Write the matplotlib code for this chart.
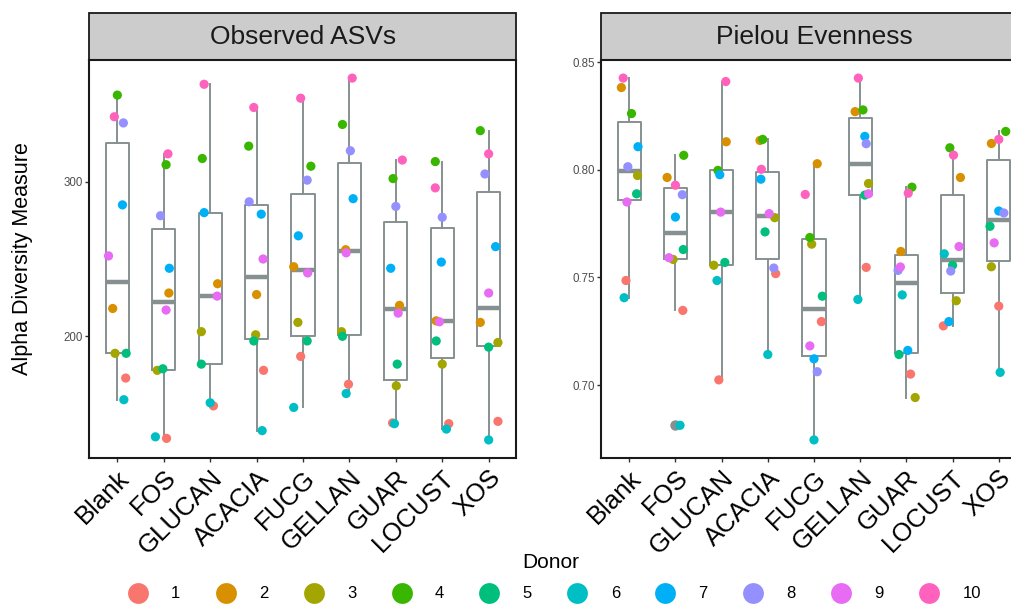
import numpy as np
import matplotlib
matplotlib.use("Agg")
import matplotlib.pyplot as plt
from matplotlib.patches import Rectangle
from matplotlib.lines import Line2D
from matplotlib.transforms import ScaledTranslation

plt.rcParams['font.family'] = ['Liberation Sans', 'DejaVu Sans']

# categories and donors
categories = ['Blank', 'FOS', 'GLUCAN', 'ACACIA', 'FUCG', 'GELLAN', 'GUAR', 'LOCUST', 'XOS']
donors = ['1', '2', '3', '4', '5', '6', '7', '8', '9', '10']
donor_colors = ['#F8766D', '#D89000', '#A3A500', '#39B600', '#00BF7D',
                '#00BFC4', '#00B0F6', '#9590FF', '#E76BF3', '#FF62BC']
nan = np.nan

# Observed ASVs, one row per category, one value per donor 1..10
observed = [
    [173, 218, 189, 356, 189, 159, 285, 338, 252, 342],
    [134, 228, 178, 311, 179, 135, 244, 278, 217, 318],
    [155, 234, 203, 315, 182, 157, 280, nan, 226, 363],
    [178, 227, 201, 323, 197, 139, 279, 287, 250, 348],
    [187, 245, 209, 310, 197, 154, 265, 301, 241, 354],
    [169, 256, 203, 337, 200, 163, 289, 320, 254, 367],
    [144, 220, 168, 302, 182, 143.5, 244, 284, 215, 314],
    [143.5, 210, 182, 313, 197, 140, 248, 277, 209.4, 296],
    [145, 209, 196, 333, 193, 133, 258, 305, 228, 318],
]
# horizontal jitter (category units)
observed_jit = [
    [.18, -.10, -.05, 0, .19, .14, .11, .13, -.19, -.065],
    [.06, .11, -.14, .05, -.02, -.18, .12, -.07, .05, .09],
    [.07, .16, -.19, -.17, -.19, 0, -.13, 0, .15, -.13],
    [.15, 0, -.02, -.17, -.06, .12, .10, -.16, .14, -.06],
    [-.05, -.20, -.11, .17, .09, -.20, -.10, .09, .10, -.05],
    [-.02, -.08, -.17, -.15, -.15, -.07, .08, .02, -.07, .06],
    [-.07, .08, .01, -.06, .03, -.03, -.11, 0, .05, .14],
    [.14, -.13, 0, -.15, -.13, .09, -.02, 0, -.06, -.15],
    [.20, -.18, .20, -.18, 0, 0, .15, -.08, 0, 0],
]

# Pielou Evenness
pielou = [
    [.7486, .8383, .7974, .8262, .7889, .7406, .8108, .8015, .7851, .8427],
    [.7347, .7965, .7584, .8068, .7630, .6813, .7781, .7885, .7592, .7929],
    [.7024, .8131, .7557, .7998, .7570, .7486, .7978, nan, .7804, .8411],
    [.7518, .8137, .7778, .8142, .7712, .7142, .7957, .7544, .7797, .8003],
    [.7295, .8029, .7655, .7686, .7413, .6745, .7122, .7062, .7182, .7886],
    [.7547, .8271, .7937, .8279, .7883, .7398, .8156, .8122, .7889, .8427],
    [.7051, .7621, .6942, .7920, .7142, .7419, .7161, .7533, .7549, .7892],
    [.7275, .7965, .7392, .8103, .7557, .7610, .7295, .7530, .7644, .8069],
    [.7367, .8123, .7550, .8179, .7738, .7059, .7809, .7800, .7661, .8142],
]
pielou_jit = [
    [-.07, -.17, .18, .05, .16, -.11, .19, -.03, -.05, -.13],
    [.16, -.18, -.05, .18, .17, .10, 0, .15, -.14, 0],
    [-.06, .10, -.17, -.08, .07, -.10, -.04, 0, -.02, .09],
    [.17, -.17, .15, -.11, -.06, 0, -.15, .13, .03, -.14],
    [.16, .07, -.05, -.09, .18, 0, 0, .07, -.09, -.19],
    [.13, -.11, .18, .06, .10, -.05, .10, .13, .18, -.04],
    [.09, -.12, .19, .12, -.16, -.09, .03, -.18, -.13, .04],
    [-.20, .17, .08, -.06, 0, -.18, -.08, -.04, .14, .02],
    [0, -.16, -.16, .15, -.19, .03, 0, .11, -.10, 0],
]

panels = [('Observed ASVs', observed, observed_jit, [200, 300], '{:.0f}'),
          ('Pielou Evenness', pielou, pielou_jit, [0.70, 0.75, 0.80, 0.85], '{:.2f}')]

box_col = '#879090'
fig = plt.figure(figsize=(10.12, 6.05), dpi=100)
W, H = 1012, 605
ax_rects = [(89.5 / W, 1 - 458 / H, 427 / W, 398 / H),
            (601.5 / W, 1 - 458 / H, 425 / W, 398 / H)]

for (title, vals, jit, yticks, fmt), rect in zip(panels, ax_rects):
    ax = fig.add_axes(rect)
    pos = np.arange(1, len(categories) + 1)
    groups = [np.array(v, dtype=float)[~np.isnan(np.array(v, dtype=float))] for v in vals]
    ax.boxplot(groups, positions=pos, widths=0.5, showcaps=False, patch_artist=False,
               boxprops=dict(color=box_col, lw=1.4),
               whiskerprops=dict(color=box_col, lw=1.4),
               medianprops=dict(color=box_col, lw=3.2, solid_capstyle='butt'),
               flierprops=dict(marker='o', markerfacecolor=box_col, markeredgecolor=box_col,
                               markersize=6.5))
    for i, (row, jrow) in enumerate(zip(vals, jit)):
        for d in range(len(donors)):
            if np.isnan(row[d]):
                continue
            ax.scatter(pos[i] + jrow[d], row[d], s=44, color=donor_colors[d],
                       edgecolors='none', zorder=3)
    allv = np.concatenate(groups)
    lo, hi = allv.min(), allv.max()
    pad = 0.05 * (hi - lo)
    ax.set_ylim(lo - pad, hi + pad)
    ax.set_xlim(0.4, len(categories) + 0.6)
    ax.set_yticks(yticks)
    ax.set_yticklabels([fmt.format(t) for t in yticks])
    ax.set_xticks(pos)
    ax.set_xticklabels(categories, rotation=45, ha='right', va='top',
                       rotation_mode='anchor', fontsize=18.5)
    offset = ScaledTranslation(9 / 72, 0, fig.dpi_scale_trans)
    for lbl in ax.get_xticklabels():
        lbl.set_transform(lbl.get_transform() + offset)
    ax.tick_params(axis='y', labelsize=8.3, labelcolor='#4D4D4D', length=3,
                   width=1, color='#333333', pad=2)
    ax.tick_params(axis='x', length=3, width=1, color='#333333', pad=2.5, labelcolor='black')
    for sp in ax.spines.values():
        sp.set_linewidth(1.5)
        sp.set_color('#1a1a1a')
    strip_h = 47 / 398
    ax.add_patch(Rectangle((0, 1), 1, strip_h, transform=ax.transAxes, clip_on=False,
                           facecolor='#cccccc', edgecolor='#1a1a1a', lw=1.3))
    ax.text(0.5, 1 + strip_h / 2, title, transform=ax.transAxes, ha='center',
            va='center', fontsize=19, color='#1a1a1a')

fig.text(23 / W, 1 - 259 / H, 'Alpha Diversity Measure', rotation=90,
         ha='center', va='center', fontsize=15.5)
fig.text(551 / W, 1 - 563 / H, 'Donor', ha='center', va='center', fontsize=15)

handles = [Line2D([], [], marker='o', ls='none', markersize=15, color=c,
                  markeredgewidth=0) for c in donor_colors]
fig.legend(handles, donors, loc='center', bbox_to_anchor=(551 / W, 1 - 594 / H),
           ncol=10, frameon=False, fontsize=12, handlelength=2, handletextpad=1.0,
           columnspacing=1.72, borderpad=0)

fig.savefig('out.png', dpi=100)
